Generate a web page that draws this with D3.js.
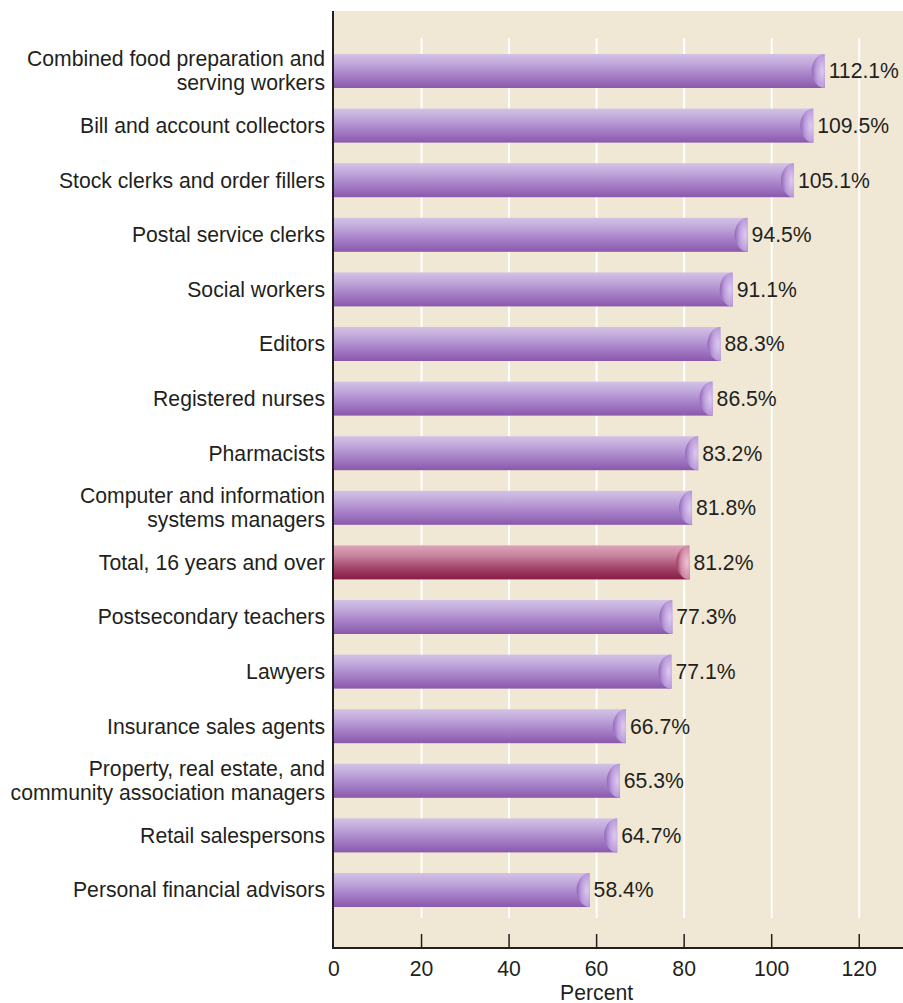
<!DOCTYPE html>
<html><head><meta charset="utf-8">
<script src="https://cdn.jsdelivr.net/npm/d3@7"></script>
<style>body{margin:0;background:#fff;} text{font-family:"Liberation Sans",Arial,sans-serif;}</style>
</head><body>
<script>
const categories = [
  ["Combined food preparation and","serving workers"],
  ["Bill and account collectors"],
  ["Stock clerks and order fillers"],
  ["Postal service clerks"],
  ["Social workers"],
  ["Editors"],
  ["Registered nurses"],
  ["Pharmacists"],
  ["Computer and information","systems managers"],
  ["Total, 16 years and over"],
  ["Postsecondary teachers"],
  ["Lawyers"],
  ["Insurance sales agents"],
  ["Property, real estate, and","community association managers"],
  ["Retail salespersons"],
  ["Personal financial advisors"]
];
const values = [112.1,109.5,105.1,94.5,91.1,88.3,86.5,83.2,81.8,81.2,77.3,77.1,66.7,65.3,64.7,58.4];
const highlight = [false,false,false,false,false,false,false,false,false,true,false,false,false,false,false,false];
const xTicks = [0,20,40,60,80,100,120];
const xTitle = "Percent";

const W=903,H=1003,FS=21.2;
const svg=d3.select("body").append("svg").attr("width",W).attr("height",H);
const defs=svg.append("defs");
function lg(id,stops){const g=defs.append("linearGradient").attr("id",id).attr("x1",0).attr("y1",0).attr("x2",0).attr("y2",1);
 stops.forEach(s=>g.append("stop").attr("offset",s[0]).attr("stop-color",s[1]));}
lg("gp",[[0,"#d3c2e6"],[0.25,"#c3abdc"],[0.6,"#a883c9"],[1,"#8a58ac"]]);
lg("gr",[[0,"#dca4b8"],[0.3,"#c7859e"],[0.65,"#a4466b"],[1,"#881c47"]]);
function rg(id,stops){const g=defs.append("radialGradient").attr("id",id).attr("cx",0.8).attr("cy",0.5).attr("r",0.85);
 stops.forEach(s=>g.append("stop").attr("offset",s[0]).attr("stop-color",s[1]));}
rg("cp",[[0,"#dccaf0"],[0.55,"#bb9cdb"],[1,"#8c5eb2"]]);
rg("cr",[[0,"#eec2d2"],[0.55,"#d08aa6"],[1,"#962c56"]]);

const x=d3.scaleLinear().domain([0,130]).range([334,903]);
const y=d3.scaleBand().domain(d3.range(values.length)).range([43.7,917.3]).paddingInner(0.377).paddingOuter(0.1885);

svg.append("rect").attr("x",334).attr("y",11).attr("width",W-334).attr("height",948-11).attr("fill","#f0e7d5");
svg.append("g").selectAll("line").data(xTicks.filter(d=>d>0)).join("line")
  .attr("x1",d=>x(d)).attr("x2",d=>x(d)).attr("y1",38).attr("y2",918)
  .attr("stroke","#ffffff").attr("stroke-width",2);

const bh=y.bandwidth();
const g=svg.append("g");
values.forEach((v,i)=>{
  const y0=y(i), xe=x(v), rx=13;
  g.append("rect").attr("x",x(0)).attr("y",y0).attr("width",xe-x(0)).attr("height",bh)
   .attr("fill",highlight[i]?"url(#gr)":"url(#gp)");
  g.append("path").attr("d",`M${xe},${y0} A${rx},${bh/2} 0 0 0 ${xe},${y0+bh} Z`)
   .attr("fill",highlight[i]?"url(#cr)":"url(#cp)");
  g.append("text").attr("x",xe+4).attr("y",y0+bh/2).attr("dy","0.35em")
   .attr("font-size",FS).attr("fill","#231f20").text(v.toFixed(1)+"%");
  const lines=categories[i];
  const t=g.append("text").attr("text-anchor","end").attr("font-size",FS).attr("fill","#231f20");
  lines.forEach((l,j)=>{
    t.append("tspan").attr("x",325).attr("y",y0+bh/2+(j-(lines.length-1)/2)*24).attr("dy","0.35em").text(l);
  });
});

// axes
svg.append("line").attr("x1",333).attr("x2",333).attr("y1",11).attr("y2",949).attr("stroke","#231f20").attr("stroke-width",2);
svg.append("line").attr("x1",332).attr("x2",W).attr("y1",948).attr("y2",948).attr("stroke","#231f20").attr("stroke-width",2);
const ax=svg.append("g");
ax.selectAll("line").data(xTicks.filter(d=>d>0)).join("line")
  .attr("x1",d=>x(d)).attr("x2",d=>x(d)).attr("y1",934).attr("y2",948).attr("stroke","#231f20").attr("stroke-width",1.5);
ax.selectAll("text").data(xTicks).join("text").attr("x",d=>x(d)).attr("y",976)
  .attr("text-anchor","middle").attr("font-size",FS).attr("fill","#231f20").text(d=>d);
svg.append("text").attr("x",x(60)).attr("y",1000).attr("text-anchor","middle").attr("font-size",FS).attr("fill","#231f20").text(xTitle);
</script>
</body></html>
